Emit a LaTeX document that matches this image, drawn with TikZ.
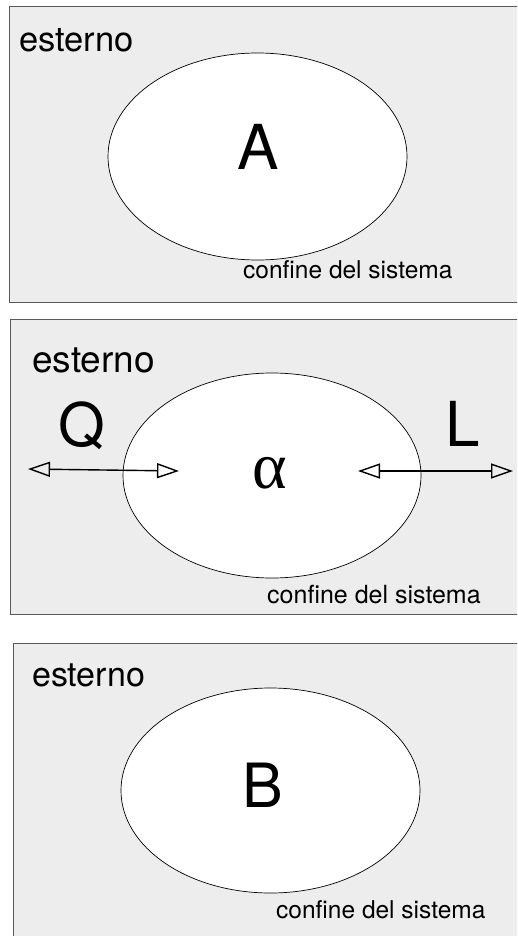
\documentclass[tikz,border=0pt]{standalone}
\usepackage{fontspec}
\setmainfont{TeX Gyre Heros}
\newfontfamily\grkfont{Liberation Serif}
\usetikzlibrary{arrows.meta,shapes.geometric}

\tikzset{
  ambiente/.style={draw=black!65, fill=black!7, line width=1pt},
  sistema/.style={ellipse, draw, fill=white, line width=0.7pt, inner sep=0pt},
  etichetta/.style={anchor=base west, inner sep=0pt},
  simbolo/.style={anchor=base, inner sep=0pt},
  scambio/.style={line width=1.4pt, {Triangle[open,length=22pt,width=15pt]}-{Triangle[open,length=22pt,width=15pt]}}
}

\begin{document}
\begin{tikzpicture}[x=1pt, y=-1pt]

    \useasboundingbox (0,0) rectangle (517,936);
    \clip (0,0) rectangle (517,936);

    % stato iniziale
    \draw[ambiente] (9,7) rectangle (540,302);
    \node (sisA) [sistema, minimum width=299pt, minimum height=207pt] at (257.5,156.5) {};
    \node (estA) [etichetta] at (19,52) {\fontsize{34.5}{40}\selectfont esterno};
    \node (confA) [etichetta] at (243,278) {\fontsize{24.5}{28}\selectfont confine del sistema};
    \node (A) [simbolo] at (258,170) {\fontsize{62}{70}\selectfont A};

    % trasformazione
    \draw[ambiente] (10,319) rectangle (540,614);
    \node (sisalpha) [sistema, minimum width=298pt, minimum height=205pt] at (272,475.5) {};
    \node (estalpha) [etichetta] at (32,372) {\fontsize{37}{42}\selectfont esterno};
    \node (confalpha) [etichetta] at (267,603) {\fontsize{25}{29}\selectfont confine del sistema};
    \node (alpha) [simbolo] at (270,488) {\fontsize{66}{72}\grkfont α};
    \node (Q) [simbolo] at (82,446) {\fontsize{60}{68}\selectfont Q};
    \node (L) [simbolo] at (463,446) {\fontsize{62}{70}\selectfont L};

    \coordinate (qout) at (28,469);
    \coordinate (qin) at (179,471);
    \coordinate (lin) at (358,471);
    \coordinate (lout) at (513,471);
    \draw[scambio] (qout) -- (qin);
    \draw[scambio] (lin) -- (lout);

    % stato finale
    \draw[ambiente] (13,643) rectangle (540,950);
    \node (sisB) [sistema, minimum width=299pt, minimum height=205pt] at (270.5,790.5) {};
    \node (estB) [etichetta] at (32,686) {\fontsize{34}{40}\selectfont esterno};
    \node (confB) [etichetta] at (276,918) {\fontsize{24.5}{28}\selectfont confine del sistema};
    \node (B) [simbolo] at (263,807) {\fontsize{61}{70}\selectfont B};

\end{tikzpicture}
\end{document}
